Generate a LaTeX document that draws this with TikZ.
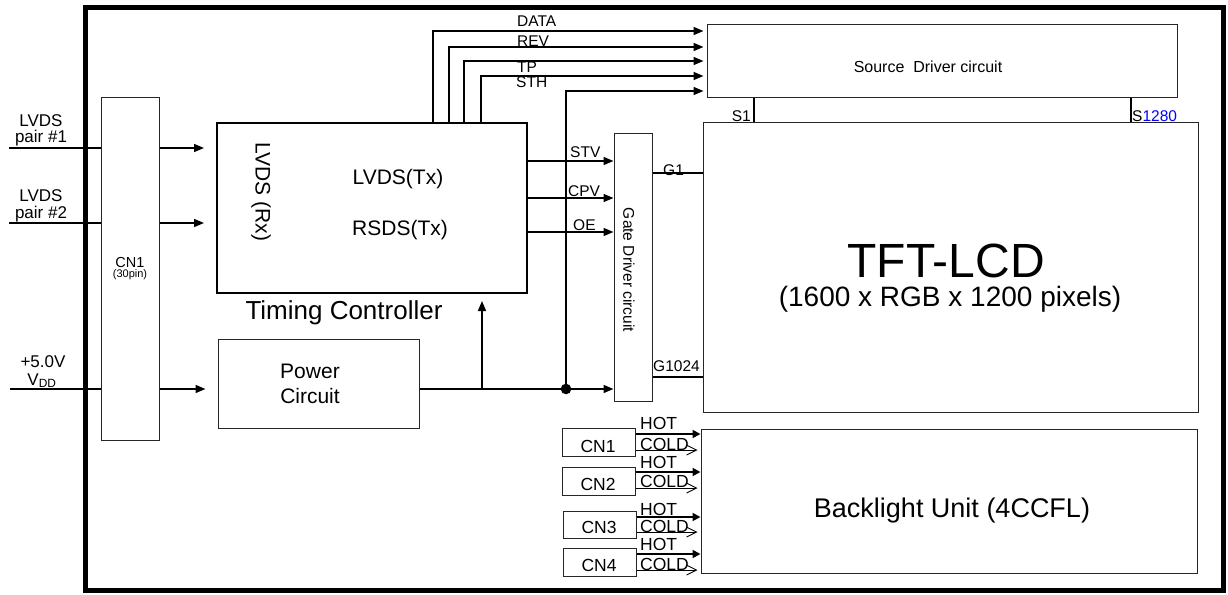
\documentclass[tikz,border=0pt]{standalone}
\usepackage{fontspec}
\setmainfont{Liberation Sans}
\usetikzlibrary{arrows.meta,fit}
\newcommand\fsz[1]{\fontsize{#1}{#1}\selectfont}
\begin{document}
\begin{tikzpicture}[x=1pt,y=-1pt,
  box/.style={draw=black!85, line width=1pt, inner sep=0pt},
  arr/.style={line width=1.6pt, -{Triangle[length=10pt,width=8pt]}},
  wire/.style={line width=1.6pt},
  hotw/.style={line width=1.8pt, -{Triangle[length=8pt,width=8pt]}},
  coldw/.style={line width=0.9pt, -{Straight Barb[length=10pt,width=10pt]}, shorten >=3pt},
  lbl/.style={inner sep=0pt, font=\fsz{15.5}},
  big/.style={inner sep=0pt, font=\fsz{21}},
  side/.style={inner sep=0pt, font=\fsz{17}, anchor=base},
  cnl/.style={inner sep=0pt, font=\fsz{17.5}, anchor=base},
  hc/.style={inner sep=0pt, font=\fsz{17.5}, anchor=base west}
]
\useasboundingbox (0,0) rectangle (1228,594);

% outer frame
\node[draw, line width=5pt, inner sep=0pt, fit={(85,7.5) (1223,590)}] (frame) {};

% boxes
\node[box, fit={(101,97) (159,440)}] (cnbig) {};
\node[box, draw=black, line width=2pt, fit={(217,123) (527,293)}] (tc) {};
\node[box, fit={(218,339) (419,428)}] (pw) {};
\node[box, fit={(707,25) (1177,97)}] (src) {};
\node[box, fit={(614,133) (652,401)}] (gd) {};
\node[box, fit={(703,122) (1198,412)}] (lcd) {};
\node[box, fit={(701,429) (1197,573)}] (blu) {};
\node[box, fit={(562,428) (635,456)}] (c1) {};
\node[box, fit={(562,467) (635,495)}] (c2) {};
\node[box, fit={(563,511) (636,538)}] (c3) {};
\node[box, fit={(563,548) (636,576)}] (c4) {};

% texts in boxes
\node[inner sep=0pt, font=\fsz{14.5}, anchor=base] (cnt) at (130,267) {CN1};
\node[inner sep=0pt, font=\fsz{11}, anchor=base] (cnp) at (130,277) {(30pin)};
\node[big, rotate=-90] (rx) at (261,192) {LVDS (Rx)};
\node[big, anchor=base] (ltx) at (398,184) {LVDS(Tx)};
\node[big, anchor=base] (rtx) at (400,235) {RSDS(Tx)};
\node[inner sep=0pt, font=\fsz{26}, anchor=base] (tcl) at (344,319) {Timing Controller};
\node[big, anchor=base] (pw1) at (310,378) {Power};
\node[big, anchor=base] (pw2) at (310,403) {Circuit};
\node[inner sep=0pt, font=\fsz{16}, anchor=base] (srcl) at (928,72) {Source\ \ Driver circuit};
\node[lbl, rotate=-90] (gdl) at (629,270) {Gate Driver circuit};
\node[inner sep=0pt, font=\fsz{48}, anchor=base] (tft) at (946,277) {TFT-LCD};
\node[inner sep=0pt, font=\fsz{28}, anchor=base] (tftp) at (950,306) {(1600 x RGB x 1200 pixels)};
\node[inner sep=0pt, font=\fsz{27}, anchor=base] (blul) at (952,517) {Backlight Unit (4CCFL)};
\node[cnl] (c1l) at (598,452) {CN1};
\node[cnl] (c2l) at (598,490) {CN2};
\node[cnl] (c3l) at (599,533) {CN3};
\node[cnl] (c4l) at (599,571) {CN4};

% left side inputs
\node[side] (l1a) at (41,126) {LVDS};
\node[side] (l1b) at (41,142) {pair \#1};
\node[side] (l2a) at (41,201) {LVDS};
\node[side] (l2b) at (41,218) {pair \#2};
\node[side] (v5) at (43,367) {+5.0V};
\node[side] (vdd) at (42,385) {V\textsubscript{DD}};
\coordinate (in1) at (9,148);
\coordinate (in2) at (9,223);
\coordinate (in3) at (10,389);
\draw[wire] (in1) -- (cnbig.west |- in1);
\draw[wire] (in2) -- (cnbig.west |- in2);
\draw[wire] (in3) -- (cnbig.west |- in3);
\draw[arr, shorten >=12pt] (cnbig.east |- in1) -- (tc.west |- in1);
\draw[arr, shorten >=12pt] (cnbig.east |- in2) -- (tc.west |- in2);
\draw[arr, shorten >=12pt] (cnbig.east |- in3) -- (pw.west |- in3);

% source driver signals
\coordinate (d0) at (433,31);
\coordinate (d1) at (449,47);
\coordinate (d2) at (464,61);
\coordinate (d3) at (481,76);
\foreach \c in {d0,d1,d2,d3}
  \draw[arr, shorten >=3pt] (tc.north -| \c) |- (src.west |- \c);
\node[lbl, anchor=base west] (ldata) at (517,27) {DATA};
\node[lbl, anchor=base west] (lrev) at (517,47) {REV};
\node[lbl, anchor=base west] (ltp) at (517,73) {TP};
\node[lbl, anchor=base west] (lsth) at (516,88) {STH};

% power distribution
\coordinate (jn) at (566,389);
\coordinate (up) at (482,389);
\coordinate (pv) at (566,91);
\draw[wire] (pw.east |- jn) -- (jn);
\draw[arr] (jn) -- (gd.west |- jn);
\draw[arr, shorten >=7pt] (up) -- (up |- tc.south);
\draw[arr, shorten >=3pt] (jn) |- (src.west |- pv);
\fill (jn) circle (5.3pt);

% gate driver signals
\coordinate (stv) at (527,161);
\coordinate (cpv) at (527,198);
\coordinate (oe) at (527,232);
\draw[arr] (tc.east |- stv) -- (gd.west |- stv);
\draw[arr] (tc.east |- cpv) -- (gd.west |- cpv);
\draw[arr] (tc.east |- oe) -- (gd.west |- oe);
\node[lbl, anchor=base west] (lstv) at (570,157) {STV};
\node[lbl, anchor=base west] (lcpv) at (568,196) {CPV};
\node[lbl, anchor=base west] (loe) at (573,230) {OE};

% gate lines
\coordinate (g1) at (652,173);
\coordinate (g2) at (652,377);
\draw[line width=1.4pt] (gd.east |- g1) -- (lcd.west |- g1);
\draw[line width=1.6pt] (gd.east |- g2) -- (lcd.west |- g2);
\node[lbl, anchor=base west] (lg1) at (663,175) {G1};
\node[lbl, anchor=base west] (lg2) at (653,371) {G1024};

% source lines
\coordinate (s1) at (754,0);
\coordinate (s2) at (1131,0);
\draw[line width=1.2pt] (src.south -| s1) -- (lcd.north -| s1);
\draw[line width=1.2pt] (src.south -| s2) -- (lcd.north -| s2);
\node[lbl, anchor=base east] (ls1) at (751,121) {S1};
\node[lbl, anchor=base west] (ls2) at (1132,121) {S{\color{blue}1280}};

% backlight connections
\coordinate (h1) at (635,434); \coordinate (k1) at (635,450);
\coordinate (h2) at (635,472); \coordinate (k2) at (635,488);
\coordinate (h3) at (636,517); \coordinate (k3) at (636,532);
\coordinate (h4) at (636,554); \coordinate (k4) at (636,570);
\draw[hotw] (c1.east |- h1) -- (blu.west |- h1);
\draw[coldw] (c1.east |- k1) -- (blu.west |- k1);
\draw[hotw] (c2.east |- h2) -- (blu.west |- h2);
\draw[coldw] (c2.east |- k2) -- (blu.west |- k2);
\draw[hotw] (c3.east |- h3) -- (blu.west |- h3);
\draw[coldw] (c3.east |- k3) -- (blu.west |- k3);
\draw[hotw] (c4.east |- h4) -- (blu.west |- h4);
\draw[coldw] (c4.east |- k4) -- (blu.west |- k4);
\node[hc] (hot1) at (640,429) {HOT};
\node[hc] (cold1) at (640,450) {COLD};
\node[hc] (hot2) at (640,468) {HOT};
\node[hc] (cold2) at (640,487) {COLD};
\node[hc] (hot3) at (640,515) {HOT};
\node[hc] (cold3) at (640,532) {COLD};
\node[hc] (hot4) at (640,550) {HOT};
\node[hc] (cold4) at (640,570) {COLD};
\end{tikzpicture}
\end{document}
